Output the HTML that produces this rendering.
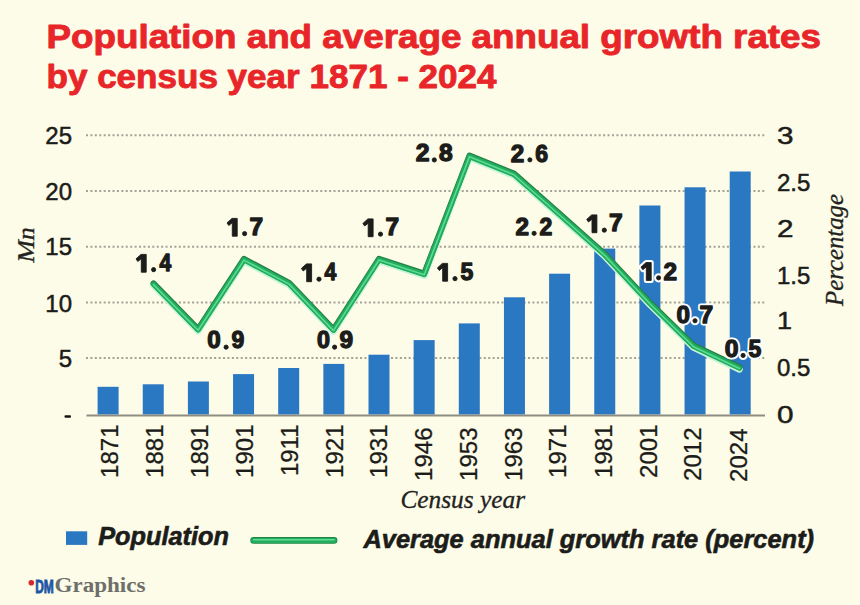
<!DOCTYPE html><html><head><meta charset="utf-8"><style>html,body{margin:0;padding:0;background:#fdfce8;}body{width:860px;height:605px;overflow:hidden;}svg{display:block;}</style></head><body>
<svg width="860" height="605" viewBox="0 0 860 605">
<rect x="0" y="0" width="860" height="605" fill="#fdfce8"/>
<g font-family="Liberation Sans, sans-serif" font-weight="bold" font-size="34" fill="#e8262a" stroke="#e8262a" stroke-width="0.9" stroke-linejoin="round">
<text x="46.5" y="48" textLength="774.5" lengthAdjust="spacingAndGlyphs">Population and average annual growth rates</text>
<text x="46.5" y="88.3" textLength="450" lengthAdjust="spacingAndGlyphs">by census year 1871 - 2024</text>
</g>
<g stroke="#a3a297" stroke-width="2" stroke-dasharray="2 2.42">
<line x1="86" y1="135.3" x2="765" y2="135.3"/>
<line x1="86" y1="191" x2="765" y2="191"/>
<line x1="86" y1="246.7" x2="765" y2="246.7"/>
<line x1="86" y1="302.4" x2="765" y2="302.4"/>
<line x1="86" y1="358.1" x2="765" y2="358.1"/>
</g>
<g font-family="Liberation Sans, sans-serif" font-size="24" fill="#1c1c1a" text-anchor="end" stroke="#1c1c1a" stroke-width="0.5">
<text x="72" y="143.8">25</text>
<text x="72" y="199.5">20</text>
<text x="72" y="255.2">15</text>
<text x="72" y="311.9">10</text>
<text x="72" y="366.6">5</text>
</g>
<rect x="64.5" y="415.3" width="6.5" height="2.5" rx="1" fill="#151513"/>
<g font-family="Liberation Sans, sans-serif" font-size="24" fill="#1c1c1a" stroke="#1c1c1a" stroke-width="0.5">
<text x="777" y="144" textLength="16.5" lengthAdjust="spacingAndGlyphs">3</text>
<text x="777" y="190.5">2.5</text>
<text x="777" y="237.3" textLength="16.5" lengthAdjust="spacingAndGlyphs">2</text>
<text x="777" y="284">1.5</text>
<text x="777" y="329" textLength="15" lengthAdjust="spacingAndGlyphs">1</text>
<text x="777" y="375.5">0.5</text>
<text x="777" y="422.5" textLength="16.5" lengthAdjust="spacingAndGlyphs">0</text>
</g>
<g fill="#2a77c2">
<rect x="97.60" y="386.80" width="21" height="27.70"/>
<rect x="142.75" y="384.30" width="21" height="30.20"/>
<rect x="187.90" y="381.50" width="21" height="33.00"/>
<rect x="233.05" y="374.10" width="21" height="40.40"/>
<rect x="278.20" y="368.00" width="21" height="46.50"/>
<rect x="323.35" y="363.90" width="21" height="50.60"/>
<rect x="368.50" y="354.70" width="21" height="59.80"/>
<rect x="413.65" y="340.10" width="21" height="74.40"/>
<rect x="458.80" y="323.40" width="21" height="91.10"/>
<rect x="503.95" y="297.30" width="21" height="117.20"/>
<rect x="549.10" y="273.70" width="21" height="140.80"/>
<rect x="594.25" y="248.60" width="21" height="165.90"/>
<rect x="639.40" y="205.50" width="21" height="209.00"/>
<rect x="684.55" y="187.30" width="21" height="227.20"/>
<rect x="729.70" y="171.50" width="21" height="243.00"/>
</g>
<line x1="86.5" y1="415.4" x2="765" y2="415.4" stroke="#8d8d84" stroke-width="2"/>
<g font-family="Liberation Sans, sans-serif" font-size="24" fill="#1c1c1a" text-anchor="end" stroke="#1c1c1a" stroke-width="0.3">
<text transform="translate(117.90,424.50) rotate(-90)">1871</text>
<text transform="translate(163.45,424.50) rotate(-90)">1881</text>
<text transform="translate(208.00,424.50) rotate(-90)">1891</text>
<text transform="translate(252.55,424.50) rotate(-90)">1901</text>
<text transform="translate(298.10,424.50) rotate(-90)">1911</text>
<text transform="translate(342.65,424.50) rotate(-90)">1921</text>
<text transform="translate(387.20,424.50) rotate(-90)">1931</text>
<text transform="translate(431.75,427.50) rotate(-90)">1946</text>
<text transform="translate(477.30,427.50) rotate(-90)">1953</text>
<text transform="translate(521.85,427.50) rotate(-90)">1963</text>
<text transform="translate(566.40,424.50) rotate(-90)">1971</text>
<text transform="translate(611.95,424.50) rotate(-90)">1981</text>
<text transform="translate(656.50,424.50) rotate(-90)">2001</text>
<text transform="translate(701.05,427.50) rotate(-90)">2012</text>
<text transform="translate(746.60,428.50) rotate(-90)">2024</text>
</g>
<g font-family="Liberation Serif, serif" font-style="italic" fill="#222220" stroke="#222220" stroke-width="0.3">
<text font-size="25" x="400.4" y="508.3" textLength="124.7" lengthAdjust="spacingAndGlyphs">Census year</text>
<text font-size="24" transform="translate(34.4,263.5) rotate(-90) skewX(-10)" textLength="35" lengthAdjust="spacingAndGlyphs" font-style="normal" stroke-width="0.35">Mn</text>
<text font-size="25" transform="translate(842.6,306) rotate(-90)" textLength="112" lengthAdjust="spacingAndGlyphs">Percentage</text>
</g>
<g fill="none" stroke-linejoin="round" stroke-linecap="round">
<polyline stroke="#c2f5d6" stroke-width="6.6" points="153.50,284.30 198.10,330.00 244.00,259.80 289.10,283.80 333.50,330.30 379.00,259.70 424.20,274.50 469.50,156.50 514.00,174.50 559.60,214.70 604.75,255.00 649.90,303.50 693.60,346.40 739.50,368.20" transform="translate(0,1.2)"/>
<polyline stroke="#247f47" stroke-width="6" points="153.50,284.30 198.10,330.00 244.00,259.80 289.10,283.80 333.50,330.30 379.00,259.70 424.20,274.50 469.50,156.50 514.00,174.50 559.60,214.70 604.75,255.00 649.90,303.50 693.60,346.40 739.50,368.20" transform="translate(0,-0.9)"/>
<polyline stroke="#22ad5d" stroke-width="5.2" points="153.50,284.30 198.10,330.00 244.00,259.80 289.10,283.80 333.50,330.30 379.00,259.70 424.20,274.50 469.50,156.50 514.00,174.50 559.60,214.70 604.75,255.00 649.90,303.50 693.60,346.40 739.50,368.20"/>
<polyline stroke="#5cda94" stroke-width="1.6" points="153.50,284.30 198.10,330.00 244.00,259.80 289.10,283.80 333.50,330.30 379.00,259.70 424.20,274.50 469.50,156.50 514.00,174.50 559.60,214.70 604.75,255.00 649.90,303.50 693.60,346.40 739.50,368.20" transform="translate(0,0.3)"/>
</g>
<text font-family="Liberation Sans, sans-serif" font-weight="bold" font-size="24.2" x="663.60" y="279.80" textLength="13.58" lengthAdjust="spacingAndGlyphs" fill="#fff" stroke="#fff" stroke-width="5" stroke-linejoin="round">2</text>
<path d="M651.20,262.60 L651.20,280.40 L646.30,280.40 L646.30,266.90 L642.80,269.70 L641.00,267.10 L646.00,262.60 Z" fill="#fff" stroke="#fff" stroke-width="5" stroke-linejoin="round"/>
<circle cx="658.60" cy="277.85" r="2.10" fill="#fff" stroke="#fff" stroke-width="5"/>
<text font-family="Liberation Sans, sans-serif" font-weight="bold" font-size="24.2" x="676.60" y="322.60" textLength="13.48" lengthAdjust="spacingAndGlyphs" fill="#fff" stroke="#fff" stroke-width="5" stroke-linejoin="round">0</text>
<text font-family="Liberation Sans, sans-serif" font-weight="bold" font-size="24.2" x="699.40" y="322.60" textLength="13.68" lengthAdjust="spacingAndGlyphs" fill="#fff" stroke="#fff" stroke-width="5" stroke-linejoin="round">7</text>
<circle cx="695.00" cy="320.75" r="2.10" fill="#fff" stroke="#fff" stroke-width="5"/>
<text font-family="Liberation Sans, sans-serif" font-weight="bold" font-size="24.2" x="724.80" y="357.00" textLength="13.78" lengthAdjust="spacingAndGlyphs" fill="#fff" stroke="#fff" stroke-width="5" stroke-linejoin="round">0</text>
<text font-family="Liberation Sans, sans-serif" font-weight="bold" font-size="24.2" x="748.60" y="357.00" textLength="12.78" lengthAdjust="spacingAndGlyphs" fill="#fff" stroke="#fff" stroke-width="5" stroke-linejoin="round">5</text>
<circle cx="743.10" cy="355.45" r="2.10" fill="#fff" stroke="#fff" stroke-width="5"/>
<text font-family="Liberation Sans, sans-serif" font-weight="bold" font-size="24.2" x="159.60" y="271.40" textLength="11.68" lengthAdjust="spacingAndGlyphs" fill="#1c1c1a" stroke="#1c1c1a" stroke-width="1.3" stroke-linejoin="round">4</text>
<path d="M146.20,254.40 L146.20,272.20 L141.30,272.20 L141.30,258.70 L137.80,261.50 L136.00,258.90 L141.00,254.40 Z" fill="#1c1c1a" stroke="#1c1c1a" stroke-width="0.9" stroke-linejoin="round"/>
<circle cx="153.60" cy="269.65" r="2.10" fill="#1c1c1a" stroke="#1c1c1a" stroke-width="0.9"/>
<text font-family="Liberation Sans, sans-serif" font-weight="bold" font-size="24.2" x="207.20" y="348.40" textLength="13.48" lengthAdjust="spacingAndGlyphs" fill="#1c1c1a" stroke="#1c1c1a" stroke-width="1.3" stroke-linejoin="round">0</text>
<text font-family="Liberation Sans, sans-serif" font-weight="bold" font-size="24.2" x="231.60" y="348.40" textLength="12.78" lengthAdjust="spacingAndGlyphs" fill="#1c1c1a" stroke="#1c1c1a" stroke-width="1.3" stroke-linejoin="round">9</text>
<circle cx="226.10" cy="347.15" r="2.10" fill="#1c1c1a" stroke="#1c1c1a" stroke-width="0.9"/>
<text font-family="Liberation Sans, sans-serif" font-weight="bold" font-size="24.2" x="249.60" y="235.40" textLength="13.58" lengthAdjust="spacingAndGlyphs" fill="#1c1c1a" stroke="#1c1c1a" stroke-width="1.3" stroke-linejoin="round">7</text>
<path d="M237.20,218.40 L237.20,236.20 L232.30,236.20 L232.30,222.70 L228.80,225.50 L227.00,222.90 L232.00,218.40 Z" fill="#1c1c1a" stroke="#1c1c1a" stroke-width="0.9" stroke-linejoin="round"/>
<circle cx="244.60" cy="233.65" r="2.10" fill="#1c1c1a" stroke="#1c1c1a" stroke-width="0.9"/>
<text font-family="Liberation Sans, sans-serif" font-weight="bold" font-size="24.2" x="324.40" y="280.40" textLength="11.78" lengthAdjust="spacingAndGlyphs" fill="#1c1c1a" stroke="#1c1c1a" stroke-width="1.3" stroke-linejoin="round">4</text>
<path d="M311.60,263.90 L311.60,281.70 L306.70,281.70 L306.70,268.20 L303.20,271.00 L301.40,268.40 L306.40,263.90 Z" fill="#1c1c1a" stroke="#1c1c1a" stroke-width="0.9" stroke-linejoin="round"/>
<circle cx="319.00" cy="279.15" r="2.10" fill="#1c1c1a" stroke="#1c1c1a" stroke-width="0.9"/>
<text font-family="Liberation Sans, sans-serif" font-weight="bold" font-size="24.2" x="317.00" y="348.40" textLength="12.98" lengthAdjust="spacingAndGlyphs" fill="#1c1c1a" stroke="#1c1c1a" stroke-width="1.3" stroke-linejoin="round">0</text>
<text font-family="Liberation Sans, sans-serif" font-weight="bold" font-size="24.2" x="339.60" y="348.40" textLength="13.58" lengthAdjust="spacingAndGlyphs" fill="#1c1c1a" stroke="#1c1c1a" stroke-width="1.3" stroke-linejoin="round">9</text>
<circle cx="334.60" cy="347.15" r="2.10" fill="#1c1c1a" stroke="#1c1c1a" stroke-width="0.9"/>
<text font-family="Liberation Sans, sans-serif" font-weight="bold" font-size="24.2" x="385.40" y="235.40" textLength="13.58" lengthAdjust="spacingAndGlyphs" fill="#1c1c1a" stroke="#1c1c1a" stroke-width="1.3" stroke-linejoin="round">7</text>
<path d="M373.10,218.90 L373.10,236.70 L368.20,236.70 L368.20,223.20 L364.70,226.00 L362.90,223.40 L367.90,218.90 Z" fill="#1c1c1a" stroke="#1c1c1a" stroke-width="0.9" stroke-linejoin="round"/>
<circle cx="380.50" cy="234.15" r="2.10" fill="#1c1c1a" stroke="#1c1c1a" stroke-width="0.9"/>
<text font-family="Liberation Sans, sans-serif" font-weight="bold" font-size="24.2" x="460.40" y="280.40" textLength="12.78" lengthAdjust="spacingAndGlyphs" fill="#1c1c1a" stroke="#1c1c1a" stroke-width="1.3" stroke-linejoin="round">5</text>
<path d="M447.60,263.40 L447.60,281.20 L442.70,281.20 L442.70,267.70 L439.20,270.50 L437.40,267.90 L442.40,263.40 Z" fill="#1c1c1a" stroke="#1c1c1a" stroke-width="0.9" stroke-linejoin="round"/>
<circle cx="455.00" cy="278.65" r="2.10" fill="#1c1c1a" stroke="#1c1c1a" stroke-width="0.9"/>
<text font-family="Liberation Sans, sans-serif" font-weight="bold" font-size="24.2" x="415.80" y="161.00" textLength="13.78" lengthAdjust="spacingAndGlyphs" fill="#1c1c1a" stroke="#1c1c1a" stroke-width="1.3" stroke-linejoin="round">2</text>
<text font-family="Liberation Sans, sans-serif" font-weight="bold" font-size="24.2" x="439.00" y="161.00" textLength="13.68" lengthAdjust="spacingAndGlyphs" fill="#1c1c1a" stroke="#1c1c1a" stroke-width="1.3" stroke-linejoin="round">8</text>
<circle cx="434.30" cy="159.95" r="2.10" fill="#1c1c1a" stroke="#1c1c1a" stroke-width="0.9"/>
<text font-family="Liberation Sans, sans-serif" font-weight="bold" font-size="24.2" x="510.80" y="161.80" textLength="13.48" lengthAdjust="spacingAndGlyphs" fill="#1c1c1a" stroke="#1c1c1a" stroke-width="1.3" stroke-linejoin="round">2</text>
<text font-family="Liberation Sans, sans-serif" font-weight="bold" font-size="24.2" x="535.20" y="161.80" textLength="12.78" lengthAdjust="spacingAndGlyphs" fill="#1c1c1a" stroke="#1c1c1a" stroke-width="1.3" stroke-linejoin="round">6</text>
<circle cx="529.90" cy="159.85" r="2.10" fill="#1c1c1a" stroke="#1c1c1a" stroke-width="0.9"/>
<text font-family="Liberation Sans, sans-serif" font-weight="bold" font-size="24.2" x="515.60" y="234.80" textLength="13.48" lengthAdjust="spacingAndGlyphs" fill="#1c1c1a" stroke="#1c1c1a" stroke-width="1.3" stroke-linejoin="round">2</text>
<text font-family="Liberation Sans, sans-serif" font-weight="bold" font-size="24.2" x="539.60" y="234.80" textLength="12.78" lengthAdjust="spacingAndGlyphs" fill="#1c1c1a" stroke="#1c1c1a" stroke-width="1.3" stroke-linejoin="round">2</text>
<circle cx="534.10" cy="233.35" r="2.10" fill="#1c1c1a" stroke="#1c1c1a" stroke-width="0.9"/>
<text font-family="Liberation Sans, sans-serif" font-weight="bold" font-size="24.2" x="609.00" y="231.40" textLength="13.68" lengthAdjust="spacingAndGlyphs" fill="#1c1c1a" stroke="#1c1c1a" stroke-width="1.3" stroke-linejoin="round">7</text>
<path d="M596.90,214.90 L596.90,232.70 L592.00,232.70 L592.00,219.20 L588.50,222.00 L586.70,219.40 L591.70,214.90 Z" fill="#1c1c1a" stroke="#1c1c1a" stroke-width="0.9" stroke-linejoin="round"/>
<circle cx="604.30" cy="230.15" r="2.10" fill="#1c1c1a" stroke="#1c1c1a" stroke-width="0.9"/>
<text font-family="Liberation Sans, sans-serif" font-weight="bold" font-size="24.2" x="663.60" y="279.80" textLength="13.58" lengthAdjust="spacingAndGlyphs" fill="#1c1c1a" stroke="#1c1c1a" stroke-width="1.3" stroke-linejoin="round">2</text>
<path d="M651.20,262.60 L651.20,280.40 L646.30,280.40 L646.30,266.90 L642.80,269.70 L641.00,267.10 L646.00,262.60 Z" fill="#1c1c1a" stroke="#1c1c1a" stroke-width="0.9" stroke-linejoin="round"/>
<circle cx="658.60" cy="277.85" r="2.10" fill="#1c1c1a" stroke="#1c1c1a" stroke-width="0.9"/>
<text font-family="Liberation Sans, sans-serif" font-weight="bold" font-size="24.2" x="676.60" y="322.60" textLength="13.48" lengthAdjust="spacingAndGlyphs" fill="#1c1c1a" stroke="#1c1c1a" stroke-width="1.3" stroke-linejoin="round">0</text>
<text font-family="Liberation Sans, sans-serif" font-weight="bold" font-size="24.2" x="699.40" y="322.60" textLength="13.68" lengthAdjust="spacingAndGlyphs" fill="#1c1c1a" stroke="#1c1c1a" stroke-width="1.3" stroke-linejoin="round">7</text>
<circle cx="695.00" cy="320.75" r="2.10" fill="#1c1c1a" stroke="#1c1c1a" stroke-width="0.9"/>
<text font-family="Liberation Sans, sans-serif" font-weight="bold" font-size="24.2" x="724.80" y="357.00" textLength="13.78" lengthAdjust="spacingAndGlyphs" fill="#1c1c1a" stroke="#1c1c1a" stroke-width="1.3" stroke-linejoin="round">0</text>
<text font-family="Liberation Sans, sans-serif" font-weight="bold" font-size="24.2" x="748.60" y="357.00" textLength="12.78" lengthAdjust="spacingAndGlyphs" fill="#1c1c1a" stroke="#1c1c1a" stroke-width="1.3" stroke-linejoin="round">5</text>
<circle cx="743.10" cy="355.45" r="2.10" fill="#1c1c1a" stroke="#1c1c1a" stroke-width="0.9"/>
<rect x="66" y="531.3" width="21.2" height="13.6" fill="#2a77c2"/>
<text font-family="Liberation Sans, sans-serif" font-weight="bold" font-style="italic" font-size="25" fill="#1c1c1a" stroke="#1c1c1a" stroke-width="0.6" x="98.2" y="545" textLength="130.79999999999998" lengthAdjust="spacingAndGlyphs">Population</text>
<g stroke-linecap="round">
<line x1="253.6" y1="540.4" x2="334.1" y2="540.4" stroke="#1d8445" stroke-width="6.6"/>
<line x1="253.6" y1="540.4" x2="334.1" y2="540.4" stroke="#22ad5c" stroke-width="5"/>
<line x1="253.6" y1="539.8" x2="334.1" y2="539.8" stroke="#62d795" stroke-width="1.4"/>
</g>
<text font-family="Liberation Sans, sans-serif" font-weight="bold" font-style="italic" font-size="25" fill="#1c1c1a" stroke="#1c1c1a" stroke-width="0.6" x="363.4" y="548" textLength="450.70000000000005" lengthAdjust="spacingAndGlyphs">Average annual growth rate (percent)</text>
<circle cx="31.3" cy="582.8" r="2.8" fill="#d9262c"/>
<text font-family="Liberation Sans, sans-serif" font-weight="bold" font-size="18" fill="#1d55a6" stroke="#1d55a6" stroke-width="0.9" x="35.2" y="592.6" textLength="18.6" lengthAdjust="spacingAndGlyphs">DM</text>
<text font-family="Liberation Serif, serif" font-weight="bold" font-size="20" fill="#6e6e6a" x="54.5" y="592" textLength="91" lengthAdjust="spacingAndGlyphs">Graphics</text>
</svg></body></html>
